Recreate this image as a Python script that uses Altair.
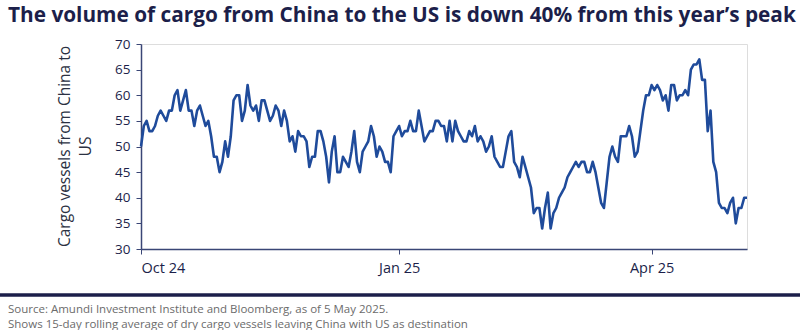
import altair as alt
import pandas as pd

TITLE = "The volume of cargo from China to the US is down 40% from this year\u2019s peak"
Y_TITLE = ["Cargo vessels from China to", "US"]
SOURCE_LINES = "Source: Amundi Investment Institute and Bloomberg, as of 5 May 2025.\nShows 15-day rolling average of dry cargo vessels leaving China with US as destination"

START_DATE = "2024-10-01"
VESSELS = [
    50, 54, 55, 53, 53, 54, 56, 57, 56, 55, 57, 57, 60, 61, 57, 59, 61, 57, 57, 54,
    57, 58, 56, 54, 55, 52, 48, 48, 45, 47, 51, 48, 52, 59, 60, 60, 55, 57, 62, 58,
    57, 58, 55, 59, 59, 57, 55, 56, 58, 57, 54, 57, 55, 51, 52, 49, 53, 52, 52, 51,
    46, 48, 48, 53, 53, 51, 48, 43, 49, 52, 45, 45, 48, 47, 46, 49, 53, 47, 45, 49,
    50, 51, 54, 52, 48, 50, 49, 47, 47, 45, 52, 53, 54, 52, 53, 53, 55, 53, 53, 57,
    54, 51, 52, 53, 53, 55, 55, 54, 54, 51, 55, 51, 55, 53, 52, 51, 51, 53, 52, 54,
    51, 52, 51, 49, 50, 52, 48, 47, 46, 46, 49, 52, 53, 47, 46, 44, 48, 46, 44, 42,
    37, 38, 38, 34, 38, 41, 34, 37, 38, 40, 41, 42, 44, 45, 46, 47, 46, 47, 47, 45,
    45, 47, 45, 42, 39, 38, 43, 48, 50, 48, 47, 52, 52, 52, 54, 52, 48, 49, 53, 57,
    60, 60, 62, 61, 62, 61, 59, 60, 57, 62, 62, 59, 60, 60, 61, 60, 65, 66, 66, 67,
    63, 63, 53, 57, 47, 45, 39, 38, 38, 37, 39, 40, 35, 38, 38, 40, 40,
]
X_TICKS = ["2024-10-01", "2025-01-01", "2025-04-01"]
Y_TICKS = [30, 35, 40, 45, 50, 55, 60, 65, 70]

df = pd.DataFrame({
    "date": pd.date_range(START_DATE, periods=len(VESSELS), freq="D"),
    "vessels": VESSELS,
})

NAVY = "#1c1f4a"
AXIS = "#3a4676"
LINE = "#1f4b9b"
FONT = "Open Sans"

x_enc = alt.X(
    "date:T",
    scale=alt.Scale(domain=[alt.DateTime(year=2024, month=10, date=1),
                            alt.DateTime(year=2025, month=5, date=5)]),
    axis=alt.Axis(
        values=[alt.DateTime(year=int(d[:4]), month=int(d[5:7]), date=int(d[8:])) for d in X_TICKS],
        labelExpr="timeFormat(datum.value, '%b %y')",
        title=None, grid=False, tickSize=5, labelPadding=7,
        labelFontSize=14.5, labelColor=NAVY, labelFont=FONT,
        domainColor=AXIS, tickColor=AXIS, domainWidth=1.5,
    ),
)
y_enc = alt.Y(
    "vessels:Q",
    scale=alt.Scale(domain=[30, 70], nice=False, zero=False),
    axis=alt.Axis(
        values=Y_TICKS, title=Y_TITLE, grid=False, tickSize=5, labelPadding=6,
        labelFontSize=13.5, labelColor=NAVY, labelFont=FONT,
        domainColor=AXIS, tickColor=AXIS, domainWidth=1.5,
        titleFont=FONT, titleFontSize=15.5, titleFontWeight="normal", titleColor="#2b3142",
        titleX=-84, titleY=102, titleBaseline="top", titleLineHeight=21,
    ),
)

line = alt.Chart(df).mark_line(color=LINE, strokeWidth=2.6, strokeJoin="round").encode(
    x=x_enc, y=y_enc
)

rule = alt.Chart(pd.DataFrame({"k": [0]})).mark_rule(color=NAVY, strokeWidth=3.5).encode(
    x=alt.value(-141), x2=alt.value(659), y=alt.value(251)
)

source = alt.Chart(pd.DataFrame({"t": [SOURCE_LINES]})).mark_text(
    align="left", baseline="top", lineBreak="\n", lineHeight=15,
    font=FONT, fontSize=11.5, color="#6b6b6b"
).encode(text="t:N", x=alt.value(-133), y=alt.value(260))

chart = alt.layer(line, rule, source).properties(
    width=606, height=205,
    title=alt.TitleParams(TITLE, anchor="start", frame="group", dx=-133, offset=10, font=FONT,
                          fontSize=20.8, fontWeight="bold", color=NAVY),
    autosize=alt.AutoSizeParams(type="none"),
    padding={"left": 141, "top": 44, "right": 53, "bottom": 81},
).configure_view(stroke=None).configure(background="white")

chart.save("out.html", embed_options={"renderer": "svg", "actions": False})
